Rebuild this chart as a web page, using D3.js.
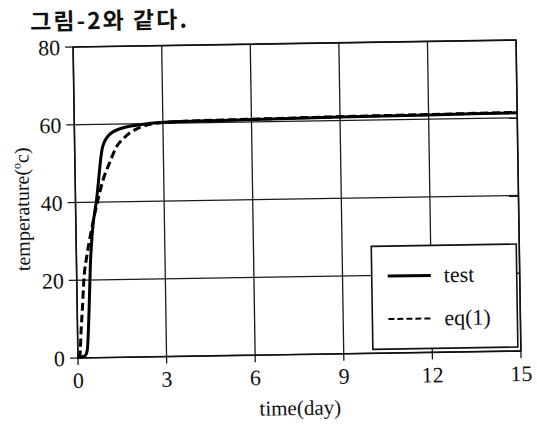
<!DOCTYPE html>
<html>
<head>
<meta charset="utf-8">
<script src="https://cdn.jsdelivr.net/npm/d3@7"></script>
<style>
  html, body { margin: 0; padding: 0; background: #fff; }
  svg { display: block; }
</style>
</head>
<body>
<script>
// Measured temperature (test) over time
const testTime  = [0, 0.1, 0.25, 0.32, 0.4, 0.47, 0.55, 0.72, 0.94, 1.17, 1.6, 2.2, 2.9, 3.5, 4.5, 6, 9, 12, 15];
const testTemp  = [0, 0.2, 0.6, 2, 12, 24, 32, 41, 54, 57.2, 58.9, 59.7, 60.2, 60.4, 60.5, 60.6, 60.9, 61.1, 61.3];
// Temperature predicted by eq(1)
const eqTime    = [0, 0.07, 0.12, 0.18, 0.24, 0.35, 0.5, 0.78, 0.94, 1.17, 1.39, 1.72, 2.06, 2.5, 3, 4, 6, 9, 12, 15];
const eqTemp    = [0, 1, 7, 13, 20, 26, 32, 41.2, 45.6, 50, 53.8, 56.7, 58.5, 59.7, 60.2, 60.5, 60.7, 61, 61.2, 61.4];
// Axis ticks and labels
const xTicks = [0, 3, 6, 9, 12, 15];
const yTicks = [0, 20, 40, 60, 80];
const seriesNames = ["test", "eq(1)"];
const titleText = "그림-2와 같다.";
const xTitle = "time(day)";

const W = 537, H = 426;
const plot = { left: 75.5, right: 518.5, top: 43.5, bottom: 354.5 };
const SERIF = "'Liberation Serif', 'Times New Roman', 'DejaVu Serif', serif";
const INK = "#111";

const svg = d3.select("body").append("svg").attr("width", W).attr("height", H);
svg.append("rect").attr("width", W).attr("height", H).attr("fill", "#fff");

// whole figure sits at a slight tilt
const g = svg.append("g").attr("transform", "rotate(-0.9, 297, 199)");

const x = d3.scaleLinear().domain([0, 15]).range([plot.left, plot.right]);
const y = d3.scaleLinear().domain([0, 80]).range([plot.bottom, plot.top]);

// heading text
g.append("text")
  .attr("x", 33).attr("y", 26)
  .attr("font-family", "'Noto Sans CJK KR', sans-serif")
  .attr("font-weight", 700)
  .attr("font-size", 23)
  .attr("letter-spacing", 2)
  .attr("fill", INK)
  .text(titleText);

// grid lines (with small outward ticks)
const gridColor = "#1a1a1a";
g.append("g").selectAll("line").data(xTicks).join("line")
  .attr("x1", d => x(d)).attr("x2", d => x(d))
  .attr("y1", plot.top).attr("y2", plot.bottom + 7)
  .attr("stroke", gridColor).attr("stroke-width", 1.3);
g.append("g").selectAll("line").data(yTicks).join("line")
  .attr("x1", plot.left - 8).attr("x2", plot.right)
  .attr("y1", d => y(d)).attr("y2", d => y(d))
  .attr("stroke", gridColor).attr("stroke-width", 1.3);

// frame
g.append("rect")
  .attr("x", plot.left).attr("y", plot.top)
  .attr("width", plot.right - plot.left).attr("height", plot.bottom - plot.top)
  .attr("fill", "none").attr("stroke", INK).attr("stroke-width", 1.6);

// tick labels
g.append("g").selectAll("text").data(xTicks).join("text")
  .attr("font-family", SERIF).attr("fill", INK)
  .attr("x", d => x(d)).attr("y", plot.bottom + 30)
  .attr("text-anchor", "middle").attr("font-size", 22)
  .text(d => d);
g.append("g").selectAll("text").data(yTicks).join("text")
  .attr("font-family", SERIF).attr("fill", INK)
  .attr("x", plot.left - 13).attr("y", d => y(d) + 8)
  .attr("text-anchor", "end").attr("font-size", 22)
  .text(d => d);

// axis titles
g.append("text")
  .attr("font-family", SERIF).attr("fill", INK)
  .attr("x", (plot.left + plot.right) / 2).attr("y", 415)
  .attr("text-anchor", "middle").attr("font-size", 21)
  .text(xTitle);
const yt = g.append("text")
  .attr("font-family", SERIF).attr("fill", INK)
  .attr("transform", `translate(29, ${(plot.top + plot.bottom) / 2 + 6}) rotate(-90)`)
  .attr("text-anchor", "middle").attr("font-size", 20);
yt.append("tspan").text("temperature(");
yt.append("tspan").attr("font-size", 12).attr("dy", -8).text("o");
yt.append("tspan").attr("dy", 8).text("c)");

// curves
const line = d3.line().x(d => x(d[0])).y(d => y(d[1])).curve(d3.curveMonotoneX);
const testData = testTime.map((t, i) => [t, testTemp[i]]);
const eqData = eqTime.map((t, i) => [t, eqTemp[i]]);

g.append("path").datum(testData).attr("d", line)
  .attr("fill", "none").attr("stroke", "#000").attr("stroke-width", 3)
  .attr("stroke-linejoin", "round");
g.append("path").datum(eqData).attr("d", line)
  .attr("fill", "none").attr("stroke", "#000").attr("stroke-width", 3)
  .attr("stroke-dasharray", "8,4");

// legend
const lg = { w: 145, h: 103 };
const lx = plot.right - 3 - lg.w, ly = plot.bottom - 4 - lg.h;
const leg = g.append("g").attr("transform", `translate(${lx}, ${ly})`);
leg.append("rect").attr("width", lg.w).attr("height", lg.h)
  .attr("fill", "#fff").attr("stroke", INK).attr("stroke-width", 1.6);
const styles = [null, "6,3"];
seriesNames.forEach((name, i) => {
  const yy = 30 + i * 43;
  leg.append("line").attr("x1", 16).attr("x2", 59).attr("y1", yy).attr("y2", yy)
    .attr("stroke", "#000").attr("stroke-width", i === 0 ? 3 : 2)
    .attr("stroke-dasharray", styles[i]);
  leg.append("text").attr("font-family", SERIF).attr("fill", INK)
    .attr("x", 72).attr("y", yy + 7).attr("font-size", 22).text(name);
});
</script>
</body>
</html>
